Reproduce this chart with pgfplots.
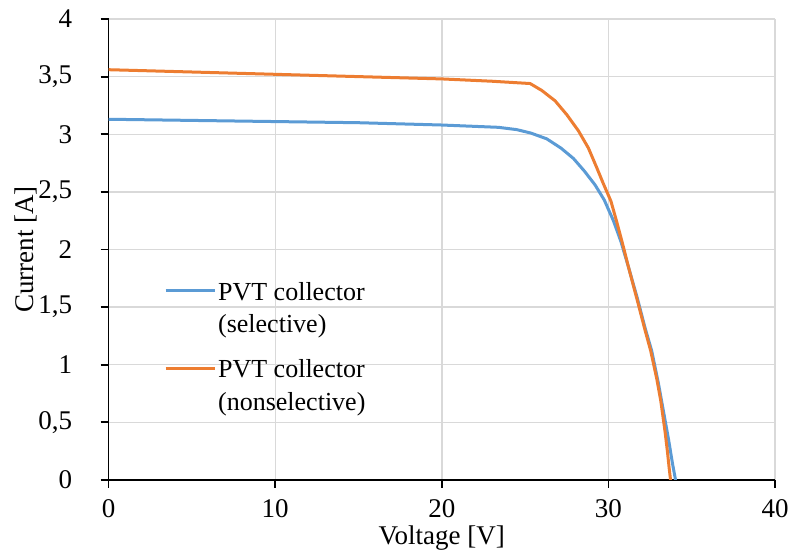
\documentclass[border=0pt]{standalone}
\usepackage{pgfplots}
\pgfplotsset{compat=1.18}
\usetikzlibrary{calc}
\usepackage{fontspec}
\setmainfont{Liberation Serif}
\definecolor{pvtblue}{RGB}{91,155,213}
\definecolor{pvtorange}{RGB}{237,125,49}
\definecolor{gridgray}{RGB}{217,217,217}

\begin{document}
\begin{tikzpicture}
\begin{axis}[
    name=ax,
    scale only axis,
    width=333.2pt, height=230.5pt,
    xmin=0, xmax=40, ymin=0, ymax=4,
    xtick={0,10,20,30,40},
    ytick={0,0.5,1,1.5,2,2.5,3,3.5,4},
    axis x line=bottom, axis y line=left,
    axis line style={-, line width=0.9pt},
    tick align=outside,
    major tick length=4pt,
    tick style={black, line width=0.9pt},
    grid=major,
    grid style={gridgray, line width=0.7pt},
    /pgf/number format/use comma,
    /pgf/number format/assume math mode=true,
    ticklabel style={font=\fontsize{13.5}{16}\selectfont},
    xticklabel style={inner sep=0pt, yshift=-5.8pt},
    yticklabel style={xshift=-10.7pt},
    xlabel={Voltage [V]},
    ylabel={Current [A]},
    label style={font=\fontsize{13.5}{16}\selectfont},
    xlabel style={at={(rel axis cs:0.5,0)}, anchor=base, inner sep=0pt, yshift=-32.5pt},
    ylabel style={at={(rel axis cs:0,0.5)}, anchor=center, yshift=41.5pt},
    legend cell align=left,
    legend style={draw=none, fill=none, inner sep=0pt,
        at={(axis cs:3.31,1.738)}, anchor=north west,
        font=\fontsize{13}{16.3}\selectfont,
        nodes={align=left, inner sep=1pt},
        row sep=10pt},
    legend image code/.code={\draw[#1, line width=1.5pt] (0pt,9.25pt) -- (24.5pt,9.25pt);},
]
\addplot[pvtblue, line width=1.5pt] coordinates {
(0,3.13)(5,3.12)(10,3.11)(15,3.10)(20,3.08)(23.4,3.06)(24.5,3.04)(25.35,3.01)
(26.3,2.96)(27.15,2.88)(27.9,2.79)(28.56,2.68)(29.2,2.56)(29.75,2.43)(30.3,2.25)
(30.75,2.07)(31.2,1.85)(31.75,1.57)(32.2,1.32)(32.6,1.12)(33.0,0.84)(33.3,0.60)
(33.6,0.36)(33.85,0.14)(34.03,0)
};
\addlegendentry{PVT collector\\(selective)}
\addplot[pvtorange, line width=1.5pt] coordinates {
(0,3.56)(5,3.54)(10,3.52)(15,3.50)(20,3.48)(23,3.46)(25.3,3.44)(26,3.38)
(26.8,3.29)(27.5,3.17)(28.2,3.03)(28.8,2.88)(29.3,2.71)(29.7,2.57)(30.15,2.42)
(30.5,2.24)(30.85,2.05)(31.2,1.85)(31.75,1.55)(32.2,1.30)(32.54,1.12)(32.9,0.88)
(33.14,0.69)(33.4,0.42)(33.54,0.25)(33.65,0.10)(33.73,0)
};
\addlegendentry{PVT collector\\(nonselective)}
\end{axis}
\path ($(ax.south west)+(-54.3pt,-35pt)$) rectangle ($(ax.north east)+(7.5pt,9.5pt)$);
\end{tikzpicture}
\end{document}
